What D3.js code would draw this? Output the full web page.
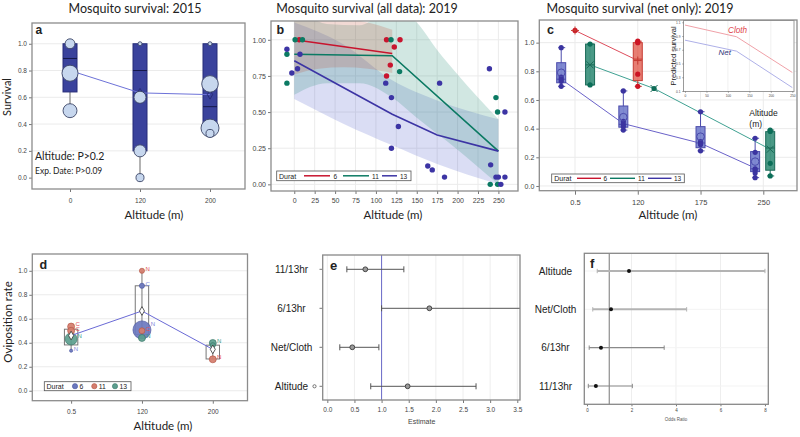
<!DOCTYPE html>
<html><head><meta charset="utf-8">
<script src="https://cdn.jsdelivr.net/npm/d3@7"></script>
<style>body{margin:0;background:#fff}</style>
</head><body><svg id="chart" width="800" height="437"></svg>
<script>
// ================= DATA =================
// Panel a (2015 survival)
const aCats = ["0", "120", "200"];
const aQ1 = [0.64, 0.20, 0.37];
const aMed = [0.89, 0.80, 0.53];
const aQ3 = [1.0, 1.0, 1.0];
const aLo = [0.50, 0.00, 0.33];
const aMean = [0.80, 0.633, 0.62];
const aPts = [
  {cat: "0", v: 1.0, n: 6}, {cat: "0", v: 0.78, n: 16}, {cat: "0", v: 0.50, n: 12},
  {cat: "120", v: 1.0, n: 1}, {cat: "120", v: 0.60, n: 9}, {cat: "120", v: 0.20, n: 9}, {cat: "120", v: 0.0, n: 4},
  {cat: "200", v: 1.0, n: 1}, {cat: "200", v: 0.70, n: 17}, {cat: "200", v: 0.37, n: 20}, {cat: "200", v: 0.33, n: 4}
];

// Panel b (2019 all data)
const bGroups = ["6", "11", "13"];
const bTicksX = [0, 25, 50, 75, 100, 125, 150, 175, 200, 225, 250];
const bTicksY = [0, 0.25, 0.5, 0.75, 1.0];
const bPts6 = [[6, 1.0], [113, 1.0], [129.5, 1.0], [122.5, 0.95], [117.6, 0.825], [113, 0.75]];
const bPts11 = [[-9, 0.90], [-9, 0.70], [1, 1.0], [10, 1.0], [118.5, 1.0], [129, 0.78], [240, 0.0], [247, 0.60], [249, 0.50], [249, 0.0]];
const bPts13 = [[-9, 0.935], [-3, 0.77], [4, 0.80], [7, 0.90], [112, 0.70], [119, 0.60], [119, 0.25], [127.5, 0.40],
  [178, 0.70], [163.5, 0.127], [169, 0.10], [184, 0.05], [239, 0.80], [240.5, 0.135], [247, 0.05], [250, 0.05],
  [253, 0.0], [258, 0.05], [258, 0.50]];
const bFitAlt6 = [0, 120], bFitV6 = [1.0, 0.905];
const bFitAlt11 = [0, 120, 250], bFitV11 = [0.90, 0.89, 0.23];
const bFitAlt13 = [0, 120, 175, 250], bFitV13 = [0.855, 0.485, 0.342, 0.23];
const bBandAlt6 = [0, 30, 60, 90, 120], bBandLo6 = [0.76, 0.80, 0.81, 0.80, 0.77], bBandHi6 = [1.32, 1.20, 1.15, 1.12, 1.07];
const bBandAlt11 = [0, 40, 80, 120, 150, 175, 200, 225, 250];
const bBandLo11 = [0.62, 0.70, 0.70, 0.60, 0.46, 0.35, 0.24, 0.12, 0.0];
const bBandHi11 = [1.25, 1.11, 1.10, 1.22, 1.12, 0.93, 0.76, 0.60, 0.45];
const bBandAlt13 = [0, 60, 120, 175, 250];
const bBandLo13 = [0.59, 0.42, 0.27, 0.14, 0.0];
const bBandHi13 = [1.12, 0.97, 0.72, 0.58, 0.45];

// Panel c (2019 net only)
const cCats = ["0.5", "120", "175", "250"];
const cTicksY = [0, 0.2, 0.4, 0.6, 0.8, 1.0];
// pos = category index + cluster offset (category units)
const cBoxes = [
  {g: "13", pos: -0.22, q1: 0.72, med: 0.745, q3: 0.86, lo: 0.695, hi: 0.965, mean: 0.79, fit: 0.745, pts: [0.965, 0.76, 0.745, 0.73, 0.695]},
  {g: "11", pos: 0.24, q1: 0.705, med: 0.845, q3: 0.99, lo: 0.705, hi: 0.99, mean: 0.845, fit: 0.845, pts: [0.99, 0.705]},
  {g: "6", pos: 0.0, q1: 1.085, med: 1.085, q3: 1.085, lo: 1.085, hi: 1.085, mean: 1.085, fit: 1.085, pts: [1.085]},
  {g: "13", pos: 0.77, q1: 0.41, med: 0.43, q3: 0.558, lo: 0.39, hi: 0.663, mean: 0.48, fit: 0.435, pts: [0.663, 0.45, 0.43, 0.415, 0.39]},
  {g: "6", pos: 1.0, q1: 0.735, med: 0.885, q3: 1.0, lo: 0.695, hi: 1.01, mean: 0.875, fit: 0.875, pts: [1.01, 1.0, 0.78, 0.695]},
  {g: "11", pos: 1.26, q1: 0.68, med: 0.68, q3: 0.68, lo: 0.68, hi: 0.68, mean: 0.68, fit: 0.68, pts: [0.68]},
  {g: "13", pos: 2.0, q1: 0.267, med: 0.30, q3: 0.414, lo: 0.245, hi: 0.518, mean: 0.344, fit: 0.298, pts: [0.518, 0.31, 0.30, 0.29, 0.245]},
  {g: "13", pos: 2.87, q1: 0.10, med: 0.12, q3: 0.24, lo: 0.058, hi: 0.333, mean: 0.17, fit: 0.125, pts: [0.333, 0.235, 0.12, 0.11, 0.09, 0.058]},
  {g: "11", pos: 3.11, q1: 0.11, med: 0.265, q3: 0.379, lo: 0.07, hi: 0.39, mean: 0.256, fit: 0.256, pts: [0.39, 0.38, 0.158, 0.07]}
];
// inset (predicted survival)
const insetAlt = [0, 120, 250];
const insetCloth = [1.06, 0.89, 0.37];
const insetNet = [0.84, 0.68, 0.15];
const insetTicksX = [0, 50, 100, 150, 200, 250];
const insetTicksY = [0.1, 0.3, 0.5, 0.7, 0.9, 1.1];

// Panel d (oviposition)
const dCats = ["0.5", "120", "200"];
const dQ1 = [0.382, 0.47, 0.265];
const dQ3 = [0.513, 0.875, 0.38];
const dLo = [0.334, 0.47, 0.265];
const dHi = [0.513, 1.0, 0.38];
const dMean = [0.46, 0.665, 0.345];
const dPts = [
  {cat: "0.5", g: "11", v: 0.535, n: 3, lab: "C"}, {cat: "0.5", g: "11", v: 0.50, n: 3, lab: "C"},
  {cat: "0.5", g: "13", v: 0.432, n: 9, lab: "N"}, {cat: "0.5", g: "6", v: 0.334, n: 0.6, lab: "N"},
  {cat: "120", g: "6", v: 0.507, n: 20, lab: "N"}, {cat: "120", g: "11", v: 1.0, n: 1.6, lab: "N"},
  {cat: "120", g: "6", v: 0.875, n: 1.6, lab: "C"}, {cat: "120", g: "11", v: 0.50, n: 2.2, lab: "C"},
  {cat: "120", g: "13", v: 0.44, n: 3, lab: "N"},
  {cat: "200", g: "13", v: 0.398, n: 3, lab: "N"}, {cat: "200", g: "13", v: 0.38, n: 1.6, lab: ""},
  {cat: "200", g: "11", v: 0.262, n: 3, lab: "N"}
];

// Panel e (estimates)
const eCats = ["11/13hr", "6/13hr", "Net/Cloth", "Altitude"];
const eEst = [0.70, 1.88, 0.46, 1.48];
const eLo = [0.36, 1.0, 0.23, 0.80];
const eHi = [1.41, 3.9, 0.95, 2.74];
const eTicks = [0, 0.5, 1, 1.5, 2, 2.5, 3, 3.5];

// Panel f (odds ratios)
const fCats = ["Altitude", "Net/Cloth", "6/13hr", "11/13hr"];
const fEst = [1.89, 1.08, 0.63, 0.40];
const fLo = [0.46, 0.26, 0.10, 0.06];
const fHi = [8.0, 4.48, 3.47, 2.04];
const fTicks = [0, 2, 4, 6, 8];

// ================= DRAWING =================
const svg = d3.select("#chart");
const FT = "Lato, 'Open Sans', sans-serif";
const FS = "'Liberation Sans', Arial, sans-serif";
const col = {"6": "#c8142e", "11": "#0b7a63", "13": "#3c34a4"};

function text(g, x, y, s, size, opts = {}) {
  const t = g.append("text").attr("x", x).attr("y", y).text(s)
    .attr("font-size", size).attr("font-family", opts.family || FT)
    .attr("fill", opts.fill || "#222").attr("text-anchor", opts.anchor || "start");
  if (opts.bold) t.attr("font-weight", "bold");
  if (opts.italic) t.attr("font-style", "italic");
  if (opts.rotate) t.attr("transform", `rotate(-90,${x},${y})`);
  return t;
}
function frame(g, x0, y0, x1, y1, stroke = "#8c8c8c") {
  g.append("rect").attr("x", x0).attr("y", y0).attr("width", x1 - x0).attr("height", y1 - y0)
    .attr("fill", "none").attr("stroke", stroke).attr("stroke-width", 1.3);
}
function gridH(g, y, vals, x0, x1, c = "#ebebeb") {
  g.selectAll(null).data(vals).enter().append("line")
    .attr("x1", x0).attr("x2", x1).attr("y1", d => y(d)).attr("y2", d => y(d)).attr("stroke", c).attr("stroke-width", 1);
}
function gridV(g, x, vals, y0, y1, c = "#ebebeb") {
  g.selectAll(null).data(vals).enter().append("line")
    .attr("y1", y0).attr("y2", y1).attr("x1", d => x(d)).attr("x2", d => x(d)).attr("stroke", c).attr("stroke-width", 1);
}
function styleAxis(a, fs, fill = "#444") {
  a.select(".domain").remove();
  a.selectAll(".tick line").attr("stroke", "#777");
  a.selectAll(".tick text").attr("font-size", fs).attr("fill", fill).attr("font-family", FS);
}
function axisLeft(g, scale, x, vals, fmt, fs, size = 3) {
  const a = g.append("g").attr("transform", `translate(${x},0)`)
    .call(d3.axisLeft(scale).tickValues(vals).tickFormat(fmt).tickSize(size).tickPadding(2));
  styleAxis(a, fs); return a;
}
function axisBottom(g, scale, y, vals, fmt, fs, size = 3, pad = 5) {
  const a = g.append("g").attr("transform", `translate(0,${y})`)
    .call(d3.axisBottom(scale).tickValues(vals).tickFormat(fmt).tickSize(size).tickPadding(pad));
  styleAxis(a, fs); return a;
}

// ---------- Panel a ----------
{
  const g = svg.append("g");
  const x = d3.scaleLinear().domain([-0.543, 2.5]).range([32, 245]);
  const y = d3.scaleLinear().domain([-0.085, 1.155]).range([189, 23]);
  const xi = c => x(aCats.indexOf(c));
  const r = d3.scaleSqrt().domain([0, 20]).range([0, 9]);
  text(g, 135, 12.5, "Mosquito survival: 2015", 12.5, {anchor: "middle"});
  gridH(g, y, [0.2, 0.4, 0.6, 0.8, 1.0], 32, 245);
  axisLeft(g, y, 32, [0, 0.2, 0.4, 0.6, 0.8, 1.0], d3.format(".1f"), 6.5);
  axisBottom(g, x, 189, [0, 1, 2], i => aCats[i], 6.5, 3, 6);
  aCats.forEach((c, i) => {
    g.append("line").attr("x1", x(i)).attr("x2", x(i)).attr("y1", y(aQ1[i])).attr("y2", y(aLo[i]))
      .attr("stroke", "#9a9a9a").attr("stroke-width", 1.5);
    g.append("rect").attr("x", x(i) - 7).attr("width", 14).attr("y", y(aQ3[i])).attr("height", y(aQ1[i]) - y(aQ3[i]))
      .attr("fill", "#3a429c").attr("stroke", "#272c78").attr("stroke-width", 1);
    g.append("line").attr("x1", x(i) - 7).attr("x2", x(i) + 7).attr("y1", y(aMed[i])).attr("y2", y(aMed[i]))
      .attr("stroke", "#15184a").attr("stroke-width", 1);
  });
  g.append("path").datum(aMean).attr("d", d3.line().x((d, i) => x(i)).y(d => y(d)))
    .attr("fill", "none").attr("stroke", "#6d72d8").attr("stroke-width", 1);
  g.selectAll(null).data(aMean).enter().append("path")
    .attr("d", d3.symbol(d3.symbolDiamond, 24)).attr("transform", (d, i) => `translate(${x(i)},${y(d)})`)
    .attr("fill", "none").attr("stroke", "#272c78").attr("stroke-width", 1);
  const pts = aPts.slice().sort((p, q) => q.n - p.n);
  g.selectAll(null).data(pts).enter().append("circle")
    .attr("cx", d => xi(d.cat)).attr("cy", d => y(d.v)).attr("r", d => r(d.n))
    .attr("fill", "#c7d7ee").attr("stroke", "#3b4566").attr("stroke-width", 0.9);
  frame(g, 32, 23, 245, 189);
  text(g, 35.5, 34, "a", 12, {bold: true, family: "'Liberation Sans', Arial"});
  text(g, 35, 160, "Altitude: P>0.2", 10.5);
  text(g, 35, 173.5, "Exp. Date: P>0.09", 8.5);
  text(g, 11, 97, "Survival", 11, {anchor: "middle", rotate: true});
  text(g, 154, 219, "Altitude (m)", 11.5, {anchor: "middle"});
}

// ---------- Panel b ----------
{
  const g = svg.append("g");
  const x = d3.scaleLinear().domain([-28.5, 274]).range([271, 518]);
  const y = d3.scaleLinear().domain([-0.046, 1.13]).range([191, 21]);
  svg.append("defs").append("clipPath").attr("id", "clipB").append("rect")
    .attr("x", 271).attr("y", 21).attr("width", 247).attr("height", 170);
  text(g, 367, 12.5, "Mosquito survival (all data): 2019", 12.5, {anchor: "middle"});
  gridH(g, y, bTicksY, 271, 518);
  gridV(g, x, bTicksX, 21, 191);
  axisLeft(g, y, 271, bTicksY, d3.format(".2f"), 7);
  axisBottom(g, x, 191, bTicksX, d3.format("d"), 7, 3, 4);
  const cg = g.append("g").attr("clip-path", "url(#clipB)");
  const bands = [
    {alt: bBandAlt13, lo: bBandLo13, hi: bBandHi13, fill: "rgba(70,85,200,0.20)"},
    {alt: bBandAlt11, lo: bBandLo11, hi: bBandHi11, fill: "rgba(40,140,120,0.21)"},
    {alt: bBandAlt6, lo: bBandLo6, hi: bBandHi6, fill: "rgba(190,80,60,0.22)"}
  ];
  bands.forEach(b => {
    const data = b.alt.map((a, i) => ({a, lo: b.lo[i], hi: b.hi[i]}));
    cg.append("path").datum(data)
      .attr("d", d3.area().x(d => x(d.a)).y0(d => y(d.lo)).y1(d => y(d.hi)).curve(d3.curveMonotoneX))
      .attr("fill", b.fill);
  });
  const fits = [[bFitAlt6, bFitV6, "6"], [bFitAlt11, bFitV11, "11"], [bFitAlt13, bFitV13, "13"]];
  fits.forEach(([al, vs, gname]) => {
    cg.append("path").datum(al.map((a, i) => [a, vs[i]]))
      .attr("d", d3.line().x(d => x(d[0])).y(d => y(d[1])))
      .attr("fill", "none").attr("stroke", col[gname]).attr("stroke-width", 1.6);
  });
  [[bPts6, "6"], [bPts11, "11"], [bPts13, "13"]].forEach(([ps, gname]) => {
    g.selectAll(null).data(ps).enter().append("circle")
      .attr("cx", d => x(d[0])).attr("cy", d => y(d[1])).attr("r", 2.7).attr("fill", col[gname]);
  });
  // legend
  g.append("rect").attr("x", 276.7).attr("y", 171).attr("width", 134.3).attr("height", 9.7)
    .attr("fill", "#fff").attr("stroke", "#555").attr("stroke-width", 0.8);
  text(g, 279, 178.7, "Durat", 7, {family: FS});
  const lx = [[304, 330, 333.5], [343, 369, 372], [382, 397, 400]];
  bGroups.forEach((gname, i) => {
    g.append("line").attr("x1", lx[i][0]).attr("x2", lx[i][1]).attr("y1", 175.8).attr("y2", 175.8)
      .attr("stroke", col[gname]).attr("stroke-width", 1.5);
    text(g, lx[i][2], 178.5, gname, 6.5, {family: FS});
  });
  frame(g, 271, 21, 518, 191);
  text(g, 276.5, 33.8, "b", 12.5, {bold: true, family: "'Liberation Sans', Arial"});
  text(g, 393, 219, "Altitude (m)", 11.5, {anchor: "middle"});
}

// ---------- Panel c ----------
{
  const g = svg.append("g");
  const x = d3.scaleLinear().domain([-0.569, 3.537]).range([539.3, 797]);
  const y = d3.scaleLinear().domain([-0.033, 1.158]).range([190.7, 20]);
  const cc = {"6": {fill: "#e6776c", stroke: "#c63a32", pt: "#cc1424", line: "#de4d5c"},
              "11": {fill: "#409480", stroke: "#1a6a57", pt: "#0b6e58", line: "#3fa192"},
              "13": {fill: "#7984cf", stroke: "#4a4aab", pt: "#3b34a0", line: "#6a62c9"}};
  text(g, 640, 12.5, "Mosquito survival (net only): 2019", 12.5, {anchor: "middle"});
  gridH(g, y, cTicksY, 539.3, 797);
  gridV(g, x, [0, 1, 2, 3], 20, 190.7);
  axisLeft(g, y, 539.3, cTicksY, d3.format(".1f"), 7);
  axisBottom(g, x, 190.7, [0, 1, 2, 3], i => cCats[i], 7.5, 4, 5);
  // inset
  const ix = d3.scaleLinear().domain([0, 250]).range([685, 792.3]);
  const iy = d3.scaleLinear().domain([0.1, 1.1]).range([91, 22.3]);
  g.append("rect").attr("x", 683.5).attr("y", 20.5).attr("width", 110.5).attr("height", 71)
    .attr("fill", "#fff").attr("stroke", "#9a9a9a").attr("stroke-width", 1);
  gridV(g, ix, insetTicksX.slice(1, -1), 21, 91, "#f0f0f0");
  axisLeft(g, iy, 683.5, insetTicksY, d3.format(".1f"), 3.2, 1);
  axisBottom(g, ix, 91.5, insetTicksX, d3.format("d"), 3.2, 1, 2);
  g.append("path").datum(insetAlt.map((a, i) => [a, insetCloth[i]]))
    .attr("d", d3.line().x(d => ix(d[0])).y(d => iy(d[1]))).attr("fill", "none").attr("stroke", "#f0a1a8").attr("stroke-width", 1);
  g.append("path").datum(insetAlt.map((a, i) => [a, insetNet[i]]))
    .attr("d", d3.line().x(d => ix(d[0])).y(d => iy(d[1]))).attr("fill", "none").attr("stroke", "#aeb0e8").attr("stroke-width", 1);
  text(g, 728, 33, "Cloth", 8.2, {italic: true, fill: "#e0474d", family: FS});
  text(g, 718.5, 54.5, "Net", 8, {italic: true, fill: "#34347a", family: FS});
  text(g, 676, 56, "Predicted survival", 7.5, {anchor: "middle", rotate: true, family: FS});
  // fit lines
  ["6", "11", "13"].forEach(gname => {
    const bs = cBoxes.filter(b => b.g === gname).sort((p, q) => p.pos - q.pos);
    g.append("path").datum(bs).attr("d", d3.line().x(d => x(d.pos)).y(d => y(d.fit)))
      .attr("fill", "none").attr("stroke", cc[gname].line).attr("stroke-width", 1);
  });
  // boxes
  const bw = 9;
  cBoxes.forEach(b => {
    const c = cc[b.g], cx = x(b.pos);
    if (b.hi > b.lo) {
      g.append("line").attr("x1", cx).attr("x2", cx).attr("y1", y(b.hi)).attr("y2", y(b.lo)).attr("stroke", c.stroke).attr("stroke-width", 1);
      [b.hi, b.lo].forEach(v => g.append("line").attr("x1", cx - 3).attr("x2", cx + 4).attr("y1", y(v)).attr("y2", y(v)).attr("stroke", c.stroke).attr("stroke-width", 1));
    }
    if (b.q3 > b.q1) {
      g.append("rect").attr("x", cx - bw / 2).attr("width", bw).attr("y", y(b.q3)).attr("height", y(b.q1) - y(b.q3))
        .attr("fill", c.fill).attr("fill-opacity", 0.95).attr("stroke", c.stroke).attr("stroke-width", 1);
      g.append("line").attr("x1", cx - bw / 2).attr("x2", cx + bw / 2).attr("y1", y(b.med)).attr("y2", y(b.med)).attr("stroke", c.stroke).attr("stroke-width", 1);
    }
    g.selectAll(null).data(b.pts).enter().append("circle")
      .attr("cx", cx).attr("cy", d => y(d)).attr("r", 2.6).attr("fill", c.pt);
    const my = y(b.mean);
    if (b.g === "13") {
      g.append("circle").attr("cx", cx).attr("cy", my).attr("r", 3.8).attr("fill", "none").attr("stroke", c.stroke).attr("stroke-width", 1);
    } else if (b.g === "11") {
      g.append("path").attr("d", `M${cx - 3.5},${my - 3.5}L${cx + 3.5},${my + 3.5}M${cx - 3.5},${my + 3.5}L${cx + 3.5},${my - 3.5}`)
        .attr("stroke", c.stroke).attr("stroke-width", 1);
    } else {
      g.append("path").attr("d", `M${cx - 4},${my}L${cx + 4},${my}M${cx},${my - 4}L${cx},${my + 4}`)
        .attr("stroke", c.stroke).attr("stroke-width", 1);
    }
  });
  // legend
  g.append("rect").attr("x", 551.7).attr("y", 174).attr("width", 132.6).attr("height", 8.7)
    .attr("fill", "#fff").attr("stroke", "#555").attr("stroke-width", 0.8);
  text(g, 554.3, 181.2, "Durat", 7, {family: FS});
  const lx = [[577, 601, 603.5], [610, 635, 638], [648, 671.5, 674]];
  ["6", "11", "13"].forEach((gname, i) => {
    g.append("line").attr("x1", lx[i][0]).attr("x2", lx[i][1]).attr("y1", 178.3).attr("y2", 178.3)
      .attr("stroke", col[gname]).attr("stroke-width", 1.4);
    text(g, lx[i][2], 181, gname, 6.5, {family: FS});
  });
  text(g, 749.3, 116, "Altitude", 8.5, {family: FS});
  text(g, 749.3, 126.5, "(m)", 8.5, {family: FS});
  frame(g, 539.3, 20, 797, 190.7);
  text(g, 547, 34, "c", 12.5, {bold: true, family: "'Liberation Sans', Arial"});
  text(g, 668, 219, "Altitude (m)", 11.5, {anchor: "middle"});
}

// ---------- Panel d ----------
{
  const g = svg.append("g");
  const x = d3.scaleLinear().domain([-0.548, 2.49]).range([32.3, 247.5]);
  const y = d3.scaleLinear().domain([-0.083, 1.14]).range([400.7, 254]);
  const xi = c => x(dCats.indexOf(c));
  const r = d3.scaleSqrt().domain([0, 20]).range([0, 9]);
  const rr = d => Math.max(1.5, r(d.n));
  const dc = {"6": {f: "#6b78bf", s: "#4c58a0", t: "#7c84d8"}, "11": {f: "#d57d6d", s: "#b55848", t: "#e24c55"}, "13": {f: "#5c9e8e", s: "#3d7a6c", t: "#3b9d8c"}};
  gridH(g, y, [0, 0.2, 0.4, 0.6, 0.8, 1.0], 32.3, 247.5);
  axisLeft(g, y, 32.3, [0, 0.2, 0.4, 0.6, 0.8, 1.0], d3.format(".1f"), 6.5);
  axisBottom(g, x, 400.7, [0, 1, 2], i => dCats[i], 6.5, 3, 6);
  dCats.forEach((c, i) => {
    g.append("line").attr("x1", x(i)).attr("x2", x(i)).attr("y1", y(dHi[i])).attr("y2", y(dLo[i])).attr("stroke", "#777").attr("stroke-width", 1);
    g.append("rect").attr("x", x(i) - 6.7).attr("width", 13.4).attr("y", y(dQ3[i])).attr("height", y(dQ1[i]) - y(dQ3[i]))
      .attr("fill", "none").attr("stroke", "#777").attr("stroke-width", 1);
  });
  const pts = dPts.slice().sort((p, q) => q.n - p.n);
  g.selectAll(null).data(pts).enter().append("circle")
    .attr("cx", d => xi(d.cat)).attr("cy", d => y(d.v)).attr("r", rr)
    .attr("fill", d => dc[d.g].f).attr("fill-opacity", 0.92).attr("stroke", d => dc[d.g].s).attr("stroke-width", 0.7);
  g.append("path").datum(dMean).attr("d", d3.line().x((d, i) => x(i)).y(d => y(d)))
    .attr("fill", "none").attr("stroke", "#6a6ad6").attr("stroke-width", 1);
  g.selectAll(null).data(dMean).enter().append("path")
    .attr("d", d3.symbol(d3.symbolDiamond, 22)).attr("transform", (d, i) => `translate(${x(i)},${y(d)})`)
    .attr("fill", "#fff").attr("stroke", "#333").attr("stroke-width", 0.8);
  // point labels with simple vertical collision avoidance per category
  const labs = dPts.filter(d => d.lab).map(d => ({d, lx: xi(d.cat) + rr(d) * 0.8 + 1.5, ly: y(d.v) - rr(d) * 0.45 + 1.5}));
  dCats.forEach(c => {
    const grp = labs.filter(l => l.d.cat === c).sort((p, q) => q.ly - p.ly);
    for (let k = 1; k < grp.length; k++) {
      if (grp[k - 1].ly - grp[k].ly < 5.2 && Math.abs(grp[k - 1].lx - grp[k].lx) < 5) grp[k].ly = grp[k - 1].ly - 5.2;
    }
  });
  g.selectAll(null).data(labs).enter().append("text")
    .attr("x", l => l.lx).attr("y", l => l.ly)
    .text(l => l.d.lab).attr("font-size", 6).attr("font-family", FS).attr("fill", l => dc[l.d.g].t);
  // legend
  g.append("rect").attr("x", 44.3).attr("y", 381.7).attr("width", 86.7).attr("height", 9)
    .attr("fill", "#fff").attr("stroke", "#555").attr("stroke-width", 0.8);
  text(g, 46.5, 389, "Durat", 7, {family: FS});
  const lx = [[75, 79.5], [94.3, 98.8], [115, 119.5]];
  ["6", "11", "13"].forEach((gname, i) => {
    g.append("circle").attr("cx", lx[i][0]).attr("cy", 386.2).attr("r", 2.6).attr("fill", dc[gname].f).attr("stroke", dc[gname].s).attr("stroke-width", 0.6);
    text(g, lx[i][1], 388.8, gname, 6.8, {family: FS});
  });
  frame(g, 32.3, 254, 247.5, 400.7);
  text(g, 39.5, 268.5, "d", 12.5, {bold: true, family: "'Liberation Sans', Arial"});
  text(g, 11.5, 322, "Oviposition rate", 11.5, {anchor: "middle", rotate: true});
  text(g, 163, 430, "Altitude (m)", 11.5, {anchor: "middle"});
}

// ---------- Panel e ----------
{
  const g = svg.append("g");
  const x = d3.scaleLinear().domain([-0.085, 3.55]).range([322.7, 520]);
  const y = d3.scalePoint().domain(eCats).range([269.3, 386.3]);
  svg.select("defs").append("clipPath").attr("id", "clipE").append("rect")
    .attr("x", 322.7).attr("y", 255).attr("width", 197.3).attr("height", 145);
  gridV(g, x, eTicks, 255, 400, "#eeeeee");
  axisBottom(g, x, 400, eTicks, d3.format(".1f"), 6.5, 3, 4);
  g.append("line").attr("x1", x(1)).attr("x2", x(1)).attr("y1", 255).attr("y2", 400).attr("stroke", "#6b6bc8").attr("stroke-width", 1);
  const cg = g.append("g").attr("clip-path", "url(#clipE)");
  eCats.forEach((c, i) => {
    const yy = y(c);
    cg.append("line").attr("x1", x(eLo[i])).attr("x2", x(eHi[i])).attr("y1", yy).attr("y2", yy).attr("stroke", "#555").attr("stroke-width", 1);
    [eLo[i], eHi[i]].forEach(v => cg.append("line").attr("x1", x(v)).attr("x2", x(v)).attr("y1", yy - 3).attr("y2", yy + 3).attr("stroke", "#555").attr("stroke-width", 1));
    cg.append("circle").attr("cx", x(eEst[i])).attr("cy", yy).attr("r", 2.4).attr("fill", "#9a9a9a").attr("stroke", "#444").attr("stroke-width", 1);
    g.append("line").attr("x1", 319.5).attr("x2", 322.7).attr("y1", yy).attr("y2", yy).attr("stroke", "#777");
    text(g, 291.5, yy + 3.5, c, 10, {anchor: "middle", family: FS});
  });
  g.append("circle").attr("cx", 314.5).attr("cy", y("Altitude")).attr("r", 1.6).attr("fill", "none").attr("stroke", "#555").attr("stroke-width", 0.8);
  frame(g, 322.7, 255, 520, 400, "#888");
  text(g, 330, 270, "e", 13, {bold: true, family: "'Liberation Sans', Arial"});
  text(g, 421.7, 424, "Estimate", 7, {anchor: "middle", family: FS, fill: "#444"});
}

// ---------- Panel f ----------
{
  const g = svg.append("g");
  const x = d3.scaleLinear().domain([-0.12, 8.15]).range([584.3, 768.3]);
  const y = d3.scalePoint().domain(fCats).range([271, 386]);
  gridV(g, x, [2, 4, 6], 253.3, 404.3, "#eeeeee");
  gridH(g, y, fCats, 584.3, 768.3, "#f3f3f3");
  axisBottom(g, x, 404.3, fTicks, d3.format("d"), 4.5, 2, 3);
  g.append("line").attr("x1", x(1)).attr("x2", x(1)).attr("y1", 253.3).attr("y2", 404.3).attr("stroke", "#777").attr("stroke-width", 1);
  fCats.forEach((c, i) => {
    const yy = y(c);
    const light = i < 2;
    const sc = light ? "#b3b3b3" : "#8a8a8a";
    const sw = light ? 2 : 1.2;
    g.append("line").attr("x1", x(fLo[i])).attr("x2", x(fHi[i])).attr("y1", yy).attr("y2", yy).attr("stroke", sc).attr("stroke-width", sw);
    [fLo[i], fHi[i]].forEach(v => g.append("line").attr("x1", x(v)).attr("x2", x(v)).attr("y1", yy - 2.2).attr("y2", yy + 2.2).attr("stroke", sc).attr("stroke-width", 1));
    g.append("circle").attr("cx", x(fEst[i])).attr("cy", yy).attr("r", 2).attr("fill", "#111");
    text(g, 555.5, yy + 3.5, c, 10, {anchor: "middle", family: FS});
  });
  frame(g, 584.3, 253.3, 768.3, 404.3, "#888");
  text(g, 590, 268, "f", 13, {bold: true, family: "'Liberation Sans', Arial"});
  text(g, 676, 420.5, "Odds Ratio", 4.5, {anchor: "middle", family: FS, fill: "#555"});
}
</script>
</body></html>
